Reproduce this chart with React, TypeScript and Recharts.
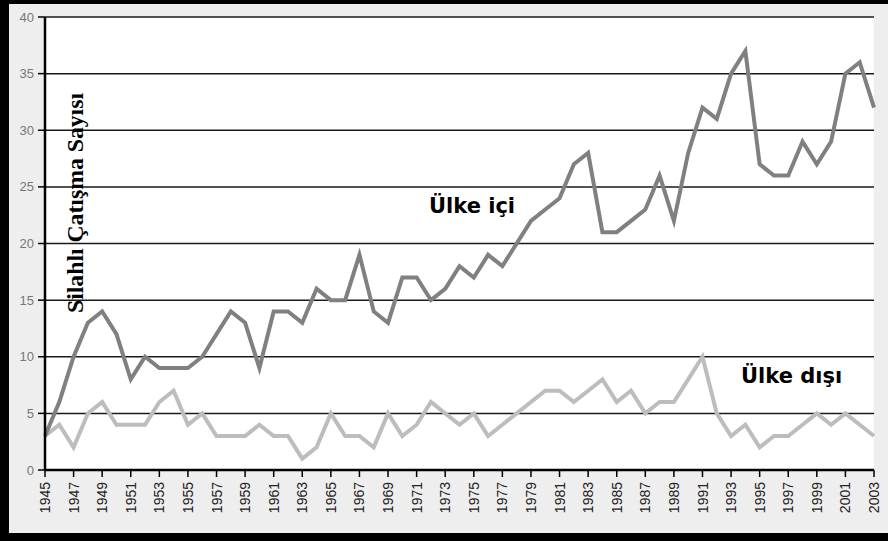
import { LineChart, Line, XAxis, YAxis, CartesianGrid } from "recharts";

const years = [
  1945, 1946, 1947, 1948, 1949, 1950, 1951, 1952, 1953, 1954, 1955, 1956,
  1957, 1958, 1959, 1960, 1961, 1962, 1963, 1964, 1965, 1966, 1967, 1968,
  1969, 1970, 1971, 1972, 1973, 1974, 1975, 1976, 1977, 1978, 1979, 1980,
  1981, 1982, 1983, 1984, 1985, 1986, 1987, 1988, 1989, 1990, 1991, 1992,
  1993, 1994, 1995, 1996, 1997, 1998, 1999, 2000, 2001, 2002, 2003,
];

// Ülke içi (intrastate)
const internal = [
  3, 6, 10, 13, 14, 12, 8, 10, 9, 9, 9, 10, 12, 14, 13, 9, 14, 14, 13, 16,
  15, 15, 19, 14, 13, 17, 17, 15, 16, 18, 17, 19, 18, 20, 22, 23, 24, 27, 28,
  21, 21, 22, 23, 26, 22, 28, 32, 31, 35, 37, 27, 26, 26, 29, 27, 29, 35, 36,
  32,
];

// Ülke dışı (extrastate)
const external = [
  3, 4, 2, 5, 6, 4, 4, 4, 6, 7, 4, 5, 3, 3, 3, 4, 3, 3, 1, 2, 5, 3, 3, 2, 5,
  3, 4, 6, 5, 4, 5, 3, 4, 5, 6, 7, 7, 6, 7, 8, 6, 7, 5, 6, 6, 8, 10, 5, 3, 4,
  2, 3, 3, 4, 5, 4, 5, 4, 3,
];

const xTicks = [
  1945, 1947, 1949, 1951, 1953, 1955, 1957, 1959, 1961, 1963, 1965, 1967,
  1969, 1971, 1973, 1975, 1977, 1979, 1981, 1983, 1985, 1987, 1989, 1991,
  1993, 1995, 1997, 1999, 2001, 2003,
];
const yTicks = [0, 5, 10, 15, 20, 25, 30, 35, 40];

const data = years.map((year, i) => ({
  year,
  internal: internal[i],
  external: external[i],
}));

const SANS = "'Liberation Sans', Arial, sans-serif";

function YearTick(props: any) {
  const { x, y, payload } = props;
  return (
    <g transform={`translate(${x},${y})`}>
      <text
        x={0}
        y={0}
        dy="0.36em"
        transform="rotate(-90)"
        textAnchor="end"
        fill="#222"
        fontSize={14}
        fontFamily={SANS}
      >
        {payload.value}
      </text>
    </g>
  );
}

export default function App() {
  return (
    <div
      style={{
        position: "relative",
        width: 888,
        height: 541,
        background: "#eeeeee",
        overflow: "hidden",
      }}
    >
      <style>{"body{margin:0}"}</style>
      <LineChart
        width={888}
        height={541}
        data={data}
        margin={{ top: 17, right: 14, bottom: 0, left: 0 }}
        style={{ position: "absolute", left: 0, top: 0 }}
      >
        <CartesianGrid
          vertical={false}
          fill="#ffffff"
          stroke="#1a1a1a"
          strokeWidth={1.5}
          horizontalValues={yTicks}
        />
        <XAxis
          dataKey="year"
          type="number"
          domain={[1945, 2003]}
          ticks={xTicks}
          interval={0}
          height={71}
          tickSize={7}
          tickMargin={5}
          stroke="#000"
          strokeWidth={2.5}
          tickLine={{ stroke: "#000", strokeWidth: 1.5 }}
          tick={<YearTick />}
        />
        <YAxis
          domain={[0, 40]}
          ticks={yTicks}
          width={45}
          tickSize={7}
          tickMargin={4}
          stroke="#000"
          strokeWidth={2.5}
          tickLine={{ stroke: "#000", strokeWidth: 1.5 }}
          tick={{ fill: "#777", fontSize: 13, fontFamily: SANS }}
        />
        <Line
          type="linear"
          dataKey="external"
          stroke="#bdbdbd"
          strokeWidth={4}
          dot={false}
          isAnimationActive={false}
        />
        <Line
          type="linear"
          dataKey="internal"
          stroke="#808080"
          strokeWidth={4}
          dot={false}
          isAnimationActive={false}
        />
      </LineChart>
      <svg
        width={888}
        height={541}
        style={{ position: "absolute", left: 0, top: 0, pointerEvents: "none" }}
      >
        <text
          transform="translate(83,203) rotate(-90)"
          textAnchor="middle"
          fontFamily="'Liberation Serif', 'Times New Roman', serif"
          fontWeight="bold"
          fontSize={24}
          textLength={220}
          lengthAdjust="spacingAndGlyphs"
          fill="#000"
        >
          Silahlı Çatışma Sayısı
        </text>
        <text
          x={429}
          y={213}
          fontFamily="'DejaVu Sans', Verdana, sans-serif"
          fontWeight="bold"
          fontSize={21}
          fill="#000"
        >
          Ülke içi
        </text>
        <text
          x={741}
          y={383}
          fontFamily="'DejaVu Sans', Verdana, sans-serif"
          fontWeight="bold"
          fontSize={21}
          fill="#000"
        >
          Ülke dışı
        </text>
      </svg>
      <div style={{ position: "absolute", left: 0, top: 0, width: 888, height: 4, background: "#000" }} />
      <div style={{ position: "absolute", left: 0, top: 0, width: 9, height: 541, background: "#000" }} />
      <div style={{ position: "absolute", left: 0, top: 533, width: 888, height: 8, background: "#000" }} />
    </div>
  );
}
